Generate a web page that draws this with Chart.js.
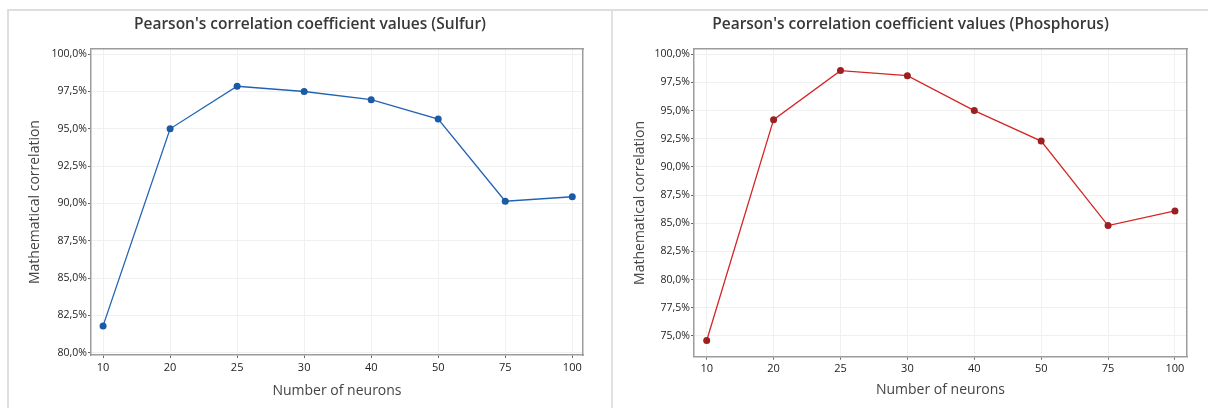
<!DOCTYPE html>
<html lang="en">
<head>
  <meta charset="UTF-8">
  <title>Pearson's correlation coefficient values</title>
  <script src="https://cdn.jsdelivr.net/npm/chart.js"></script>
  <style>
    body { margin: 0; background: #fff; font-family: "Open Sans", sans-serif; }
    #frame {
      position: absolute; left: 7px; top: 9px; width: 1201px; height: 399px;
      border-top: 2px solid #dedede; border-left: 2px solid #dedede;
    }
    #divider { position: absolute; left: 611px; top: 11px; width: 2px; height: 397px; background: #e2e2e2; }
    canvas { position: absolute; top: 11px; }
    #sulfurChart { left: 9px; }
    #phosphorusChart { left: 613px; }
  </style>
</head>
<body>
  <div id="frame"></div>
  <div id="divider"></div>
  <canvas id="sulfurChart" width="602" height="397"></canvas>
  <canvas id="phosphorusChart" width="595" height="397"></canvas>

  <script>
    // values (percent)
    const neurons = ['10', '20', '25', '30', '40', '50', '75', '100'];
    const sulfur = [81.8, 95.0, 97.85, 97.5, 96.95, 95.65, 90.15, 90.45];
    const phosphorus = [74.6, 94.2, 98.55, 98.1, 95.0, 92.3, 84.8, 86.1];
    const sulfurTicks = [80, 82.5, 85, 87.5, 90, 92.5, 95, 97.5, 100];
    const phosphorusTicks = [75, 77.5, 80, 82.5, 85, 87.5, 90, 92.5, 95, 97.5, 100];

    const frameColor = '#9c9c9c';
    const gridColor = '#f0f0f0';

    function pct(v) {
      return v.toFixed(1).replace('.', ',') + '%';
    }

    function makeChart(id, cfg) {
      const ctx = document.getElementById(id).getContext('2d');
      return new Chart(ctx, {
        type: 'line',
        data: {
          datasets: [{
            data: cfg.values.map((v, i) => ({ x: i, y: v })),
            borderColor: cfg.line,
            borderWidth: 1.3,
            pointRadius: 3.5,
            pointBackgroundColor: cfg.dot,
            pointBorderColor: cfg.dot,
            pointBorderWidth: 0,
            tension: 0
          }]
        },
        options: {
          responsive: false,
          devicePixelRatio: 1,
          animation: false,
          layout: { padding: 0 },
          plugins: {
            legend: { display: false },
            tooltip: { enabled: false },
            title: {
              display: true,
              text: cfg.title,
              color: '#383838',
              font: { family: 'Open Sans', size: 15.5, weight: '600' },
              padding: { top: 4, bottom: 15.5 }
            }
          },
          scales: {
            x: {
              type: 'linear',
              min: cfg.xMin,
              max: cfg.xMax,
              afterBuildTicks: s => { s.ticks = neurons.map((n, i) => ({ value: i })); },
              afterFit: s => { s.height = cfg.xHeight; },
              ticks: {
                callback: v => neurons[v],
                color: '#222',
                font: { family: 'Open Sans', size: 11 },
                padding: 3,
                maxRotation: 0,
                autoSkip: false
              },
              grid: { color: gridColor, tickColor: '#666', tickLength: 3 },
              border: { color: frameColor, width: 1.5 },
              title: {
                display: true,
                text: 'Number of neurons',
                color: '#444',
                font: { family: 'Open Sans', size: 14 },
                padding: { top: 0, bottom: cfg.xTitlePad }
              }
            },
            xTop: {
              type: 'linear',
              position: 'top',
              afterFit: s => { s.height = 0; },
              ticks: { display: false },
              grid: { display: false },
              border: { color: frameColor, width: 1.5 }
            },
            y: {
              min: cfg.yMin,
              max: cfg.yMax,
              afterBuildTicks: s => { s.ticks = cfg.ticks.map(v => ({ value: v })); },
              afterFit: s => { s.width = cfg.yWidth; },
              ticks: {
                callback: v => pct(v),
                color: '#222',
                font: { family: 'Open Sans', size: 10.5 },
                padding: 1
              },
              grid: { color: gridColor, tickColor: '#666', tickLength: 3 },
              border: { color: frameColor, width: 1.5 },
              title: {
                display: true,
                text: 'Mathematical correlation',
                color: '#444',
                font: { family: 'Open Sans', size: 14 },
                padding: { top: cfg.yTitlePad, bottom: 0 }
              }
            },
            yRight: {
              position: 'right',
              afterFit: s => { s.width = cfg.rightGap; },
              ticks: { display: false },
              grid: { display: false },
              border: { color: frameColor, width: 1.5 }
            }
          }
        }
      });
    }

    makeChart('sulfurChart', {
      title: "Pearson's correlation coefficient values (Sulfur)",
      values: sulfur,
      ticks: sulfurTicks,
      line: '#2163b2',
      dot: '#1a5aa6',
      yMin: 79.85, yMax: 100.34,
      xMin: -0.18, xMax: 7.16,
      yWidth: 82, rightGap: 28, xHeight: 53,
      yTitlePad: 17.6, xTitlePad: 8.6
    });

    makeChart('phosphorusChart', {
      title: "Pearson's correlation coefficient values (Phosphorus)",
      values: phosphorus,
      ticks: phosphorusTicks,
      line: '#d42626',
      dot: '#9c2020',
      yMin: 73.16, yMax: 100.46,
      xMin: -0.19, xMax: 7.18,
      yWidth: 81, rightGap: 21, xHeight: 51.3,
      yTitlePad: 18.6, xTitlePad: 9.6
    });
  </script>
</body>
</html>
